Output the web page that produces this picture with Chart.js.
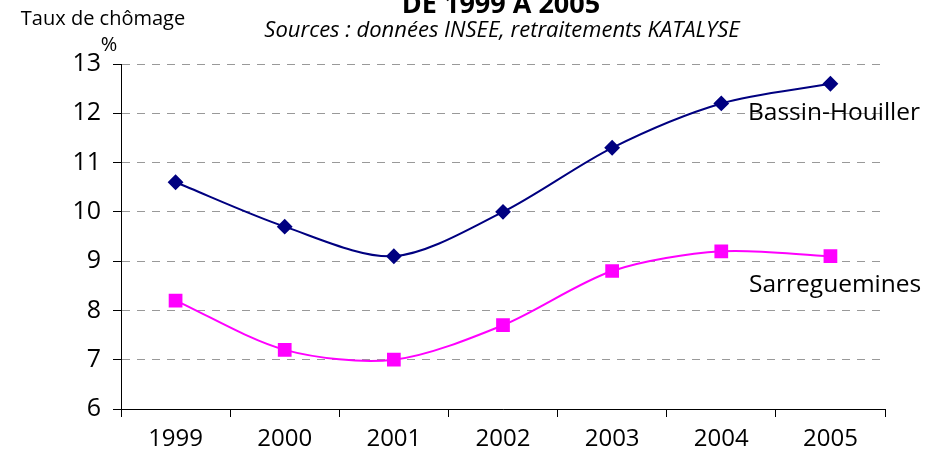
<!DOCTYPE html>
<html lang="fr">
<head>
    <meta charset="UTF-8">
    <title>Taux de chômage de 1999 à 2005</title>
    <script src="https://cdn.jsdelivr.net/npm/chart.js"></script>
    <style>
        html, body {
            margin: 0;
            padding: 0;
            background: #ffffff;
        }

        .chart-container {
            position: relative;
            width: 930px;
            height: 452px;
        }
    </style>
</head>
<body>
    <div class="chart-container">
        <canvas id="chomage-chart"></canvas>
    </div>

    <script>
        // Years on the x axis
        const years = ['1999', '2000', '2001', '2002', '2003', '2004', '2005'];

        // Unemployment rate (%) per zone
        const bassinHouiller = [10.6, 9.7, 9.1, 10.0, 11.3, 12.2, 12.6];
        const sarreguemines = [8.2, 7.2, 7.0, 7.7, 8.8, 9.2, 9.1];

        const seriesNames = ['Bassin-Houiller', 'Sarreguemines'];

        const FONT = '"Open Sans", "Noto Sans", sans-serif';

        // Headings, axis caption and series names drawn on the canvas
        const labelsPlugin = {
            id: 'labels',
            afterDraw(chart) {
                const ctx = chart.ctx;
                ctx.save();
                ctx.fillStyle = '#000';
                ctx.textBaseline = 'alphabetic';

                ctx.textAlign = 'center';
                ctx.font = 'bold 27px ' + FONT;
                ctx.fillText('DE 1999 A 2005', 501, 13);

                ctx.font = 'italic 22px ' + FONT;
                ctx.fillText('Sources : données INSEE, retraitements KATALYSE', 502, 37);

                ctx.font = '20px ' + FONT;
                ctx.fillText('Taux de chômage', 103, 25);
                ctx.fillText('%', 109, 51);

                // series names next to the end of each line
                ctx.textAlign = 'left';
                ctx.font = '24.5px ' + FONT;
                ctx.fillText(seriesNames[0], 748, 120);
                ctx.fillText(seriesNames[1], 749, 292);
                ctx.restore();
            }
        };

        const ctx = document.getElementById('chomage-chart').getContext('2d');
        new Chart(ctx, {
            type: 'line',
            data: {
                labels: years,
                datasets: [{
                    label: seriesNames[0],
                    data: bassinHouiller,
                    borderColor: '#000080',
                    backgroundColor: '#000080',
                    borderWidth: 2,
                    pointStyle: 'rectRot',
                    pointRadius: 6.5,
                    tension: 0.3
                }, {
                    label: seriesNames[1],
                    data: sarreguemines,
                    borderColor: '#ff00ff',
                    backgroundColor: '#ff00ff',
                    borderWidth: 2,
                    pointStyle: 'rect',
                    pointRadius: 8.3,
                    tension: 0.3
                }]
            },
            options: {
                responsive: true,
                maintainAspectRatio: false,
                animation: false,
                layout: {
                    padding: { top: 64, right: 45, left: 0, bottom: 0 }
                },
                plugins: {
                    legend: { display: false },
                    tooltip: { enabled: false }
                },
                scales: {
                    x: {
                        offset: true,
                        afterFit(scale) { scale.height = 43; },
                        border: { color: '#000', width: 1 },
                        grid: {
                            offset: true,
                            drawOnChartArea: false,
                            drawTicks: true,
                            tickLength: 8,
                            color: '#000'
                        },
                        ticks: {
                            color: '#000',
                            font: { family: FONT, size: 24 },
                            padding: 8
                        }
                    },
                    y: {
                        min: 6,
                        max: 13,
                        afterFit(scale) { scale.width = 121; },
                        border: { color: '#000', width: 1, dash: [8, 7] },
                        grid: {
                            color: '#999999',
                            tickColor: '#000',
                            tickLength: 8,
                            tickBorderDash: [1, 0]
                        },
                        ticks: {
                            stepSize: 1,
                            color: '#000',
                            font: { family: FONT, size: 25 },
                            padding: 12
                        }
                    }
                }
            },
            plugins: [labelsPlugin]
        });
    </script>
</body>
</html>
